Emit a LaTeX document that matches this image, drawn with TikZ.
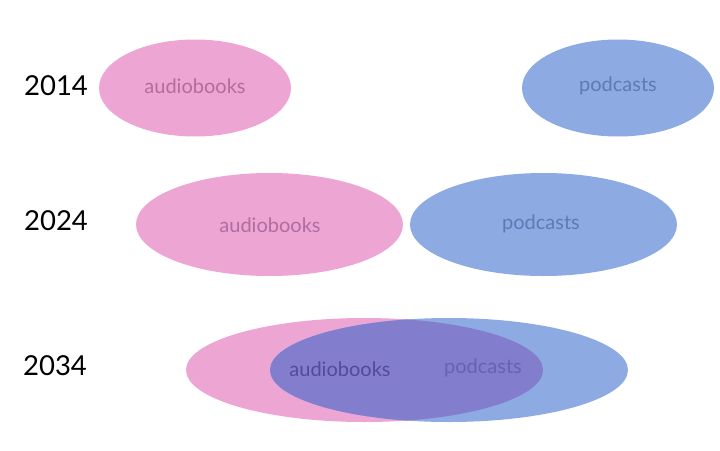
\documentclass[tikz,border=0pt]{standalone}
\usepackage{fontspec}
\setmainfont{Lato}
\definecolor{pinkf}{RGB}{237,166,211}
\definecolor{bluef}{RGB}{141,170,226}
\definecolor{purpf}{RGB}{131,125,205}
\definecolor{pinkt}{RGB}{176,110,160}
\definecolor{bluet}{RGB}{95,122,184}
\definecolor{purpt}{RGB}{82,74,156}
\definecolor{purpt2}{RGB}{104,98,182}
\begin{document}
\begin{tikzpicture}[x=1pt,y=-1pt,
  year/.style={font=\fontsize{27.5}{32}\selectfont, text=black},
  lbl/.style={font=\fontsize{20}{24}\selectfont}]
\useasboundingbox (0,0) rectangle (720,450);
% row 1
\fill[pinkf] (195,88) ellipse [x radius=96, y radius=48.5];
\fill[bluef] (618,88) ellipse [x radius=96, y radius=48.5];
\node[year] (y1) at (56,86) {2014};
\node[lbl,text=pinkt] (a1) at (195,86) {audiobooks};
\node[lbl,text=bluet] (p1) at (618,86) {podcasts};
% row 2
\fill[pinkf] (269.5,224.5) ellipse [x radius=133.5, y radius=51.5];
\fill[bluef] (543.5,224.5) ellipse [x radius=133.5, y radius=51.5];
\node[year] (y2) at (56,221) {2024};
\node[lbl,text=pinkt] (a2) at (270,225) {audiobooks};
\node[lbl,text=bluet] (p2) at (541,224) {podcasts};
% row 3
\fill[pinkf] (364.5,370) ellipse [x radius=178.5, y radius=52];
\fill[bluef] (449,370) ellipse [x radius=179, y radius=52];
\begin{scope}
\clip (364.5,370) ellipse [x radius=178.5, y radius=52];
\fill[purpf] (449,370) ellipse [x radius=179, y radius=52];
\end{scope}
\node[year] (y3) at (55,366) {2034};
\node[lbl,text=purpt] (a3) at (340,369) {audiobooks};
\node[lbl,text=purpt2] (p3) at (483,368) {podcasts};
\end{tikzpicture}
\end{document}
